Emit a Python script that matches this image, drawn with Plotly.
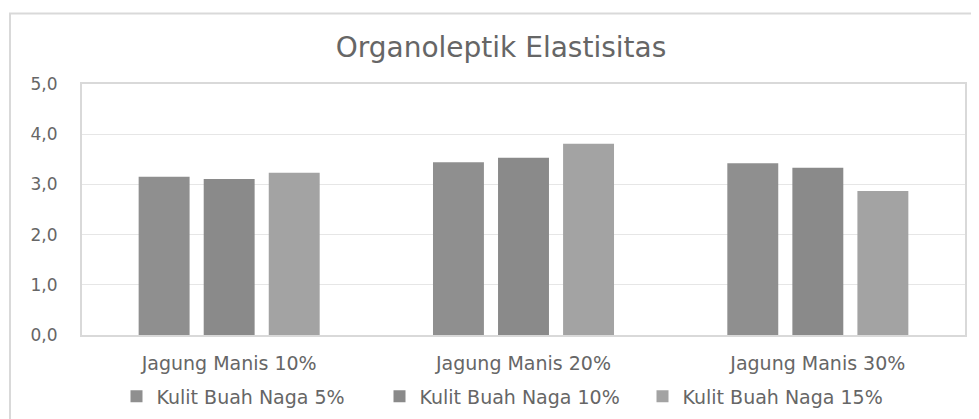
import plotly.graph_objects as go

categories = ["Jagung Manis 10%", "Jagung Manis 20%", "Jagung Manis 30%"]
series_names = ["Kulit Buah Naga 5%", "Kulit Buah Naga 10%", "Kulit Buah Naga 15%"]
naga_5 = [3.15, 3.44, 3.42]
naga_10 = [3.11, 3.53, 3.33]
naga_15 = [3.23, 3.81, 2.87]
y_ticks = [0, 1, 2, 3, 4, 5]

colors = ["#8f8f8f", "#8a8a8a", "#a3a3a3"]
font_family = "'DejaVu Sans', sans-serif"
text_col = "#666666"

# page body adds an 8px offset; margins compensate so the plot lands at screen x 82-965, y 84-337
L, T = 74, 76
PW, PH = 883, 253

fig = go.Figure()
for name, vals, col in zip(series_names, [naga_5, naga_10, naga_15], colors):
    fig.add_trace(go.Bar(x=categories, y=vals, name=name, marker=dict(color=col, line=dict(width=0))))

fig.update_layout(
    width=979, height=419,
    margin=dict(l=L, r=979 - L - PW, t=T, b=419 - T - PH),
    paper_bgcolor="white", plot_bgcolor="white",
    separators=",.",
    barmode="group", bargap=0.337, bargroupgap=0.217,
    font=dict(family=font_family, color=text_col, size=16),
    title=dict(text="Organoleptik Elastisitas", x=(493 - L) / PW, xref="paper", xanchor="center",
               y=1 - 39 / 419, yanchor="middle",
               font=dict(size=28, color=text_col, family=font_family)),
    xaxis=dict(showgrid=False, showline=True, linecolor="#d9d9d9", linewidth=2, mirror=True, automargin=False,
               tickfont=dict(size=19, color=text_col), ticks="outside", ticklen=10, tickcolor="rgba(0,0,0,0)"),
    yaxis=dict(range=[0, 5], tickvals=y_ticks, tickformat=".1f", showgrid=True, gridcolor="#e6e6e6", gridwidth=1,
               showline=True, linecolor="#d9d9d9", linewidth=2, mirror=True, zeroline=False, automargin=False,
               ticks="outside", ticklen=19, tickcolor="rgba(0,0,0,0)", tickfont=dict(size=17, color=text_col)),
    legend=dict(orientation="h", x=(503 - L) / PW, xanchor="center", y=-62 / PH, yanchor="middle",
                font=dict(size=19, color=text_col), itemwidth=30, traceorder="normal",
                entrywidth=218, entrywidthmode="pixels"),
    showlegend=True,
)

fig.add_shape(type="rect", xref="paper", yref="paper",
              x0=(2 - L) / PW, x1=1.1, y0=-0.5, y1=(PH + T - 5) / PH,
              line=dict(color="#d9d9d9", width=2), fillcolor="rgba(0,0,0,0)", layer="below")

fig.write_html("out.html")
